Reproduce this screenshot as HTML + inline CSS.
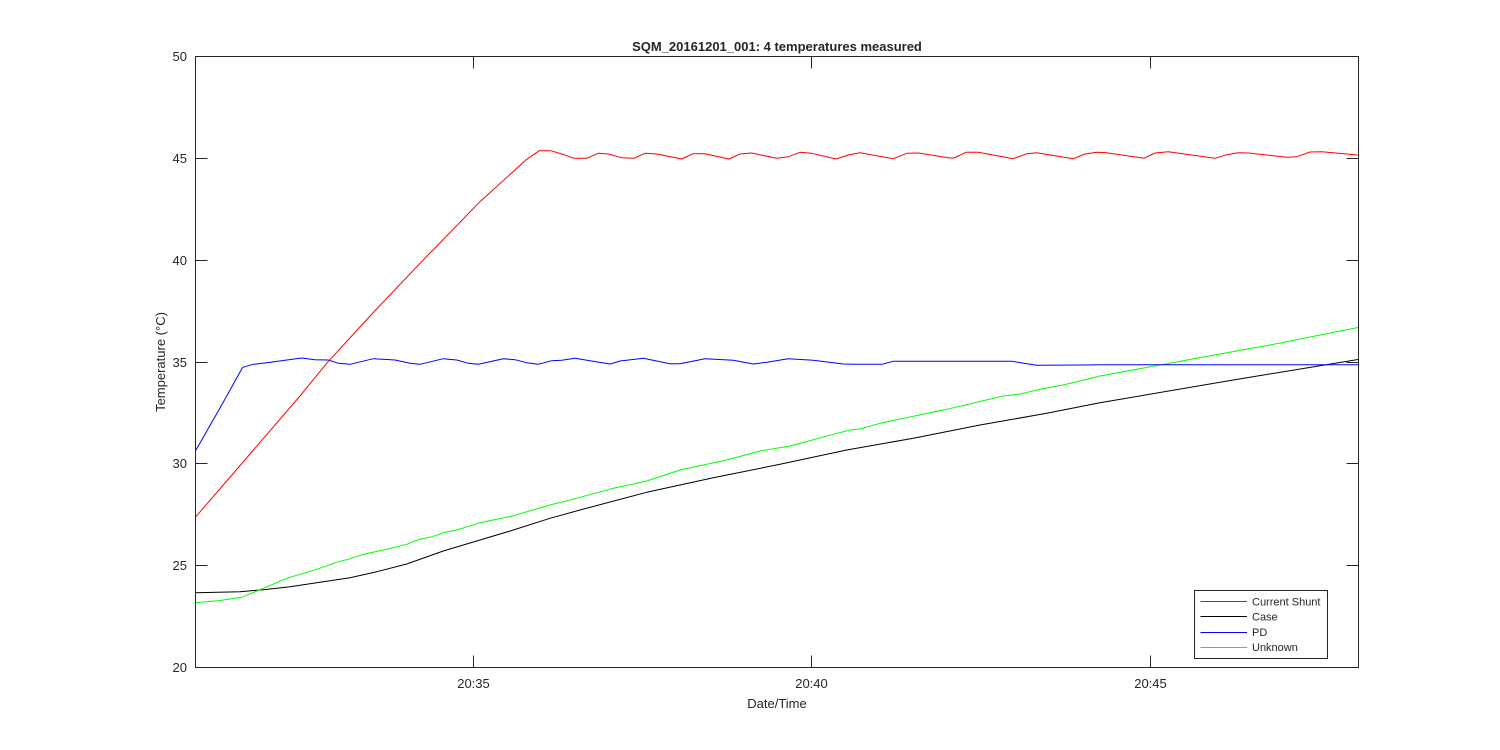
<!DOCTYPE html>
<html>
<head>
<meta charset="utf-8">
<style>
  html, body { margin:0; padding:0; background:#fff; }
  svg { display:block; }
  text { font-family: "Liberation Sans", Arial, sans-serif; fill:#262626; }
</style>
</head>
<body>
<svg width="1500" height="750" viewBox="0 0 1500 750" xmlns="http://www.w3.org/2000/svg">
  <rect x="0" y="0" width="1500" height="750" fill="#ffffff"/>
  <defs>
    <clipPath id="pa"><rect x="195.5" y="56.5" width="1163" height="611"/></clipPath>
  </defs>

  <!-- title -->
  <text x="777" y="51" font-size="13" font-weight="bold" text-anchor="middle">SQM_20161201_001: 4 temperatures measured</text>

  <!-- series -->
  <g clip-path="url(#pa)" fill="none" stroke-width="1" stroke-linejoin="round">
    <polyline stroke="#000000" points="195,592.7 240,591.7 263.3,589.7 290,586.7 323.3,581.7 350,577.7 376.7,571.7 406.7,564 443.3,551 480,540 513.3,530 550,518.3 580,510 646.7,492.3 713.3,477.7 780,464.3 846.7,450 913.3,438.3 980,425 1046.7,413.3 1100,402.7 1233.3,380 1358,359.5"/>
    <polyline stroke="#00ff00" points="195,602.7 218.3,600.7 241.7,597.3 263.3,588.3 286.7,578.3 316.7,569.3 338.3,561.7 348.3,559.3 361.7,554.7 383.3,550 406.7,544.3 420,539 430,537.3 445,532.3 456.7,530 480,522.7 513.3,515.7 550,505 580,497.3 613.3,488.3 646.7,481 680,470 726.7,460 760,451 790,446 833.3,434.3 850,430 860,429 880,423.3 930,412.7 946.7,409.3 1003.3,396 1020,394 1040,389.3 1063.3,385 1100,376 1160,365 1210,355.7 1270,345 1358,327.5"/>
    <polyline stroke="#0000ff" points="195,451.7 220,408 242.7,367.3 253.3,364.3 266.7,362.7 301.7,358 315,359.7 328.3,360 338.3,363.3 350,364.3 373.3,358.7 395,360 410,363.3 420,364.3 443.3,358.7 456.7,360 468.3,363.3 478.3,364.3 503.3,358.7 515,359.7 526.7,362.7 538.3,364.3 551.7,360.7 561.7,360.3 575,358.3 590,360.7 610,364 620,361 643.3,358.3 670,363.7 680,363.7 705,358.7 733.3,360.3 753.3,364 766.7,362.3 788.3,358.7 813.3,360.3 843.3,364 856.7,364.3 881.7,364.3 893.3,361.3 913.3,361.3 1011.7,361.3 1036.7,365.3 1083.3,365 1100,364.7 1358,364.7"/>
    <polyline stroke="#ff0000" points="195,517.7 250,454 300,396 326.7,363.3 370,316 420,263.3 480,201.7 526.7,159.3 539.3,150.7 550.7,150.7 561.7,154 574.3,158.3 586.7,158.3 598.3,153.3 608.3,154 621.7,157.7 634,158.3 645,153.3 656.7,154 681.7,159 693.3,153.7 705,153.7 729,159 740,154 751.7,153 776.7,158.3 788.3,156.7 800,152.3 811.7,153.3 836,159 848.3,155 860,152.7 893.3,158.7 906.7,153.3 918.3,153 950,158 954,158 966,152.3 978.3,152.3 1013.3,158.7 1026.7,153.7 1036.7,152.7 1073.3,158.7 1085,154 1096.7,152.3 1106.7,152.7 1144,158.3 1155,153 1168.3,151.7 1215,158.3 1226.7,154.7 1238.3,152.7 1248.3,153 1286.7,157.3 1296.7,156.7 1310,152 1321.7,151.7 1357.7,155"/>
  </g>

  <!-- axes box -->
  <rect x="195.5" y="56.5" width="1163" height="611" fill="none" stroke="#262626" stroke-width="1"/>

  <!-- y ticks -->
  <g stroke="#262626" stroke-width="1">
    <line x1="195.5" y1="565.5" x2="207.5" y2="565.5"/>
    <line x1="195.5" y1="463.5" x2="207.5" y2="463.5"/>
    <line x1="195.5" y1="362.5" x2="207.5" y2="362.5"/>
    <line x1="195.5" y1="260.5" x2="207.5" y2="260.5"/>
    <line x1="195.5" y1="158.5" x2="207.5" y2="158.5"/>
    <line x1="1358.5" y1="565.5" x2="1346.5" y2="565.5"/>
    <line x1="1358.5" y1="463.5" x2="1346.5" y2="463.5"/>
    <line x1="1358.5" y1="362.5" x2="1346.5" y2="362.5"/>
    <line x1="1358.5" y1="260.5" x2="1346.5" y2="260.5"/>
    <line x1="1358.5" y1="158.5" x2="1346.5" y2="158.5"/>
    <!-- x ticks -->
    <line x1="473.5" y1="667.5" x2="473.5" y2="655.5"/>
    <line x1="811.5" y1="667.5" x2="811.5" y2="655.5"/>
    <line x1="1150.5" y1="667.5" x2="1150.5" y2="655.5"/>
    <line x1="473.5" y1="56.5" x2="473.5" y2="68.5"/>
    <line x1="811.5" y1="56.5" x2="811.5" y2="68.5"/>
    <line x1="1150.5" y1="56.5" x2="1150.5" y2="68.5"/>
  </g>

  <!-- y tick labels -->
  <g font-size="13" text-anchor="end">
    <text x="187" y="672">20</text>
    <text x="187" y="570">25</text>
    <text x="187" y="468">30</text>
    <text x="187" y="367">35</text>
    <text x="187" y="265">40</text>
    <text x="187" y="163">45</text>
    <text x="187" y="61">50</text>
  </g>

  <!-- x tick labels -->
  <g font-size="13" text-anchor="middle">
    <text x="473.5" y="688">20:35</text>
    <text x="811.5" y="688">20:40</text>
    <text x="1150.5" y="688">20:45</text>
  </g>

  <!-- axis labels -->
  <text x="777" y="708" font-size="13" text-anchor="middle">Date/Time</text>
  <text transform="translate(165,362) rotate(-90)" font-size="13" text-anchor="middle">Temperature (°C)</text>

  <!-- legend -->
  <rect x="1194.5" y="590.5" width="133" height="68" fill="#ffffff" stroke="#262626" stroke-width="1"/>
  <g stroke-width="1">
    <line x1="1200.5" y1="601.5" x2="1247" y2="601.5" stroke="#ff0000"/>
    <line x1="1200.5" y1="616.5" x2="1247" y2="616.5" stroke="#000000"/>
    <line x1="1200.5" y1="632.5" x2="1247" y2="632.5" stroke="#0000ff"/>
    <line x1="1200.5" y1="647.5" x2="1247" y2="647.5" stroke="#00ff00"/>
  </g>
  <g font-size="11">
    <text x="1252" y="605.5">Current Shunt</text>
    <text x="1252" y="620.5">Case</text>
    <text x="1252" y="636">PD</text>
    <text x="1252" y="651">Unknown</text>
  </g>
</svg>
</body>
</html>
